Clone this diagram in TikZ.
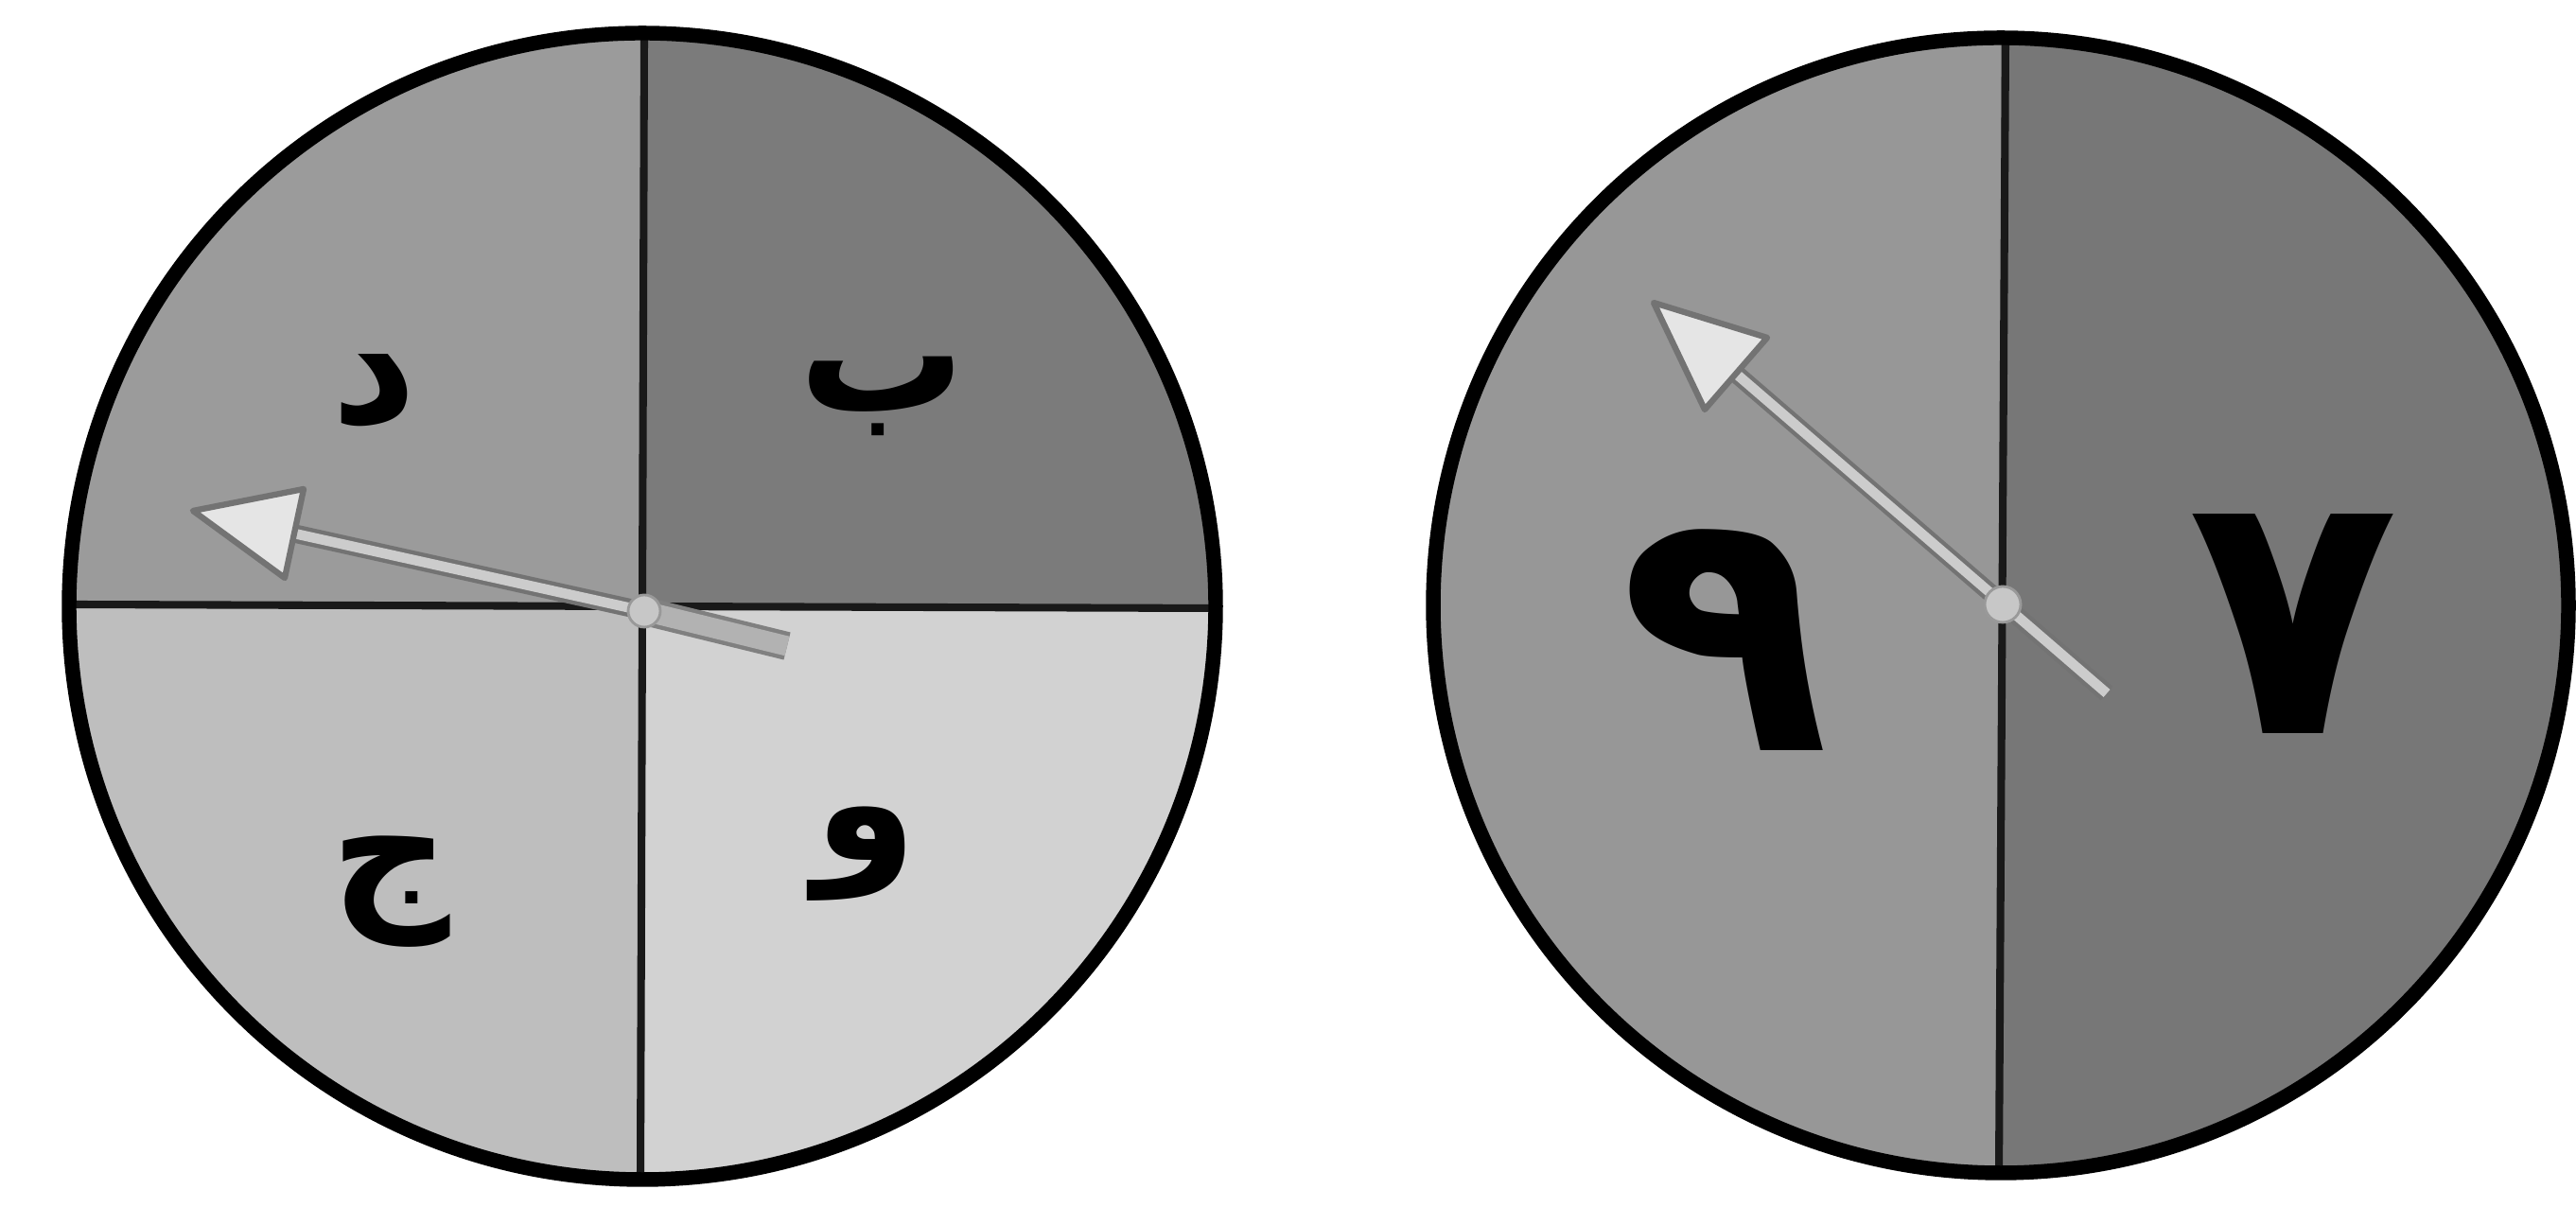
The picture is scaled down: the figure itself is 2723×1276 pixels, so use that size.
\documentclass[tikz,border=0pt]{standalone}
\usepackage{fontspec}
\TeXXeTstate=1
\newfontfamily\arabicfont[Script=Arabic]{DejaVu Sans}
\definecolor{qtl}{HTML}{9B9B9B}
\definecolor{qtr}{HTML}{7B7B7B}
\definecolor{qbl}{HTML}{BEBEBE}
\definecolor{qbr}{HTML}{D2D2D2}
\definecolor{hleft}{HTML}{979797}
\definecolor{hright}{HTML}{777777}
\begin{document}
\begin{tikzpicture}[x=0.1mm,y=0.1mm,
  rim/.style={line width=4.4pt, draw=black},
  divider/.style={line width=2.3pt, draw=black!90},
  lbl/.style={font=\arabicfont\bfseries\fontsize{50}{56}\selectfont, text=black, inner sep=0pt},
  digit/.style={font=\arabicfont\bfseries\fontsize{104}{114}\selectfont, text=black, inner sep=0pt},
  shaftout/.style={line width=5.5pt, draw=black!55},
  shaftin/.style={line width=3pt, draw=black!20},
  tailout/.style={line width=8.5pt, draw=black!50},
  tailin/.style={line width=6pt, draw=black!30},
  headtri/.style={fill=black!10, draw=black!55, line width=1.8pt, line join=round},
  pivotdot/.style={fill=black!22, draw=black!40, line width=0.8pt}
]
\useasboundingbox (0,0) rectangle (2723,1276);
\fill[white] (0,0) rectangle (2723,1276);

% ---------- left spinner ----------
\coordinate (L) at (679,635);
\fill[qtl] (L) -- +(180:606) arc[start angle=180,end angle=90,radius=606] -- cycle;
\fill[qtr] (L) -- +(90:606) arc[start angle=90,end angle=0,radius=606] -- cycle;
\fill[qbl] (L) -- +(180:606) arc[start angle=180,end angle=270,radius=606] -- cycle;
\fill[qbr] (L) -- +(270:606) arc[start angle=270,end angle=360,radius=606] -- cycle;
\coordinate (LTop) at (681,1241);
\coordinate (LBot) at (677,29);
\coordinate (LLft) at (73,637);
\coordinate (LRgt) at (1285,633);
\draw[divider] (LTop) -- (LBot);
\draw[divider] (LLft) -- (LRgt);
\draw[rim] (L) circle[radius=606];

\node[lbl] (ld) at (396,863) {\beginR د\endR};
\node[lbl] (lb) at (933,857) {\beginR ب\endR};
\node[lbl] (lj) at (413,333) {\beginR ج\endR};
\node[lbl] (lw) at (915,373) {\beginR و\endR};

% left pointer
\coordinate (LT) at (204,736);
\coordinate (LB) at (311,712);
\coordinate (LC1) at (321,759);
\coordinate (LC2) at (301,665);
\coordinate (LP) at (681,630);
\coordinate (LE) at (832,593);
\draw[tailout] (LP) -- (LE);
\draw[tailin] (LP) -- (LE);
\draw[shaftout] (LB) -- (LP);
\draw[shaftin] (LB) -- (LP);
\filldraw[headtri] (LT) -- (LC1) -- (LC2) -- cycle;
\filldraw[pivotdot] (LP) circle[radius=17];

% ---------- right spinner ----------
\coordinate (R) at (2115,636);
\fill[hleft] (R) -- +(90:600) arc[start angle=90,end angle=270,radius=600] -- cycle;
\fill[hright] (R) -- +(270:600) arc[start angle=270,end angle=450,radius=600] -- cycle;
\coordinate (RTop) at (2120,1236);
\coordinate (RBot) at (2113,36);
\draw[divider] (RTop) -- (RBot);
\draw[rim] (R) circle[radius=600];

\node[digit] (r9) at (1823,599) {\beginR ٩\endR};
\node[digit] (r7) at (2424,616) {\beginR ٧\endR};

% right pointer
\coordinate (RT) at (1748,956);
\coordinate (RB) at (1835,881);
\coordinate (RC1) at (1868,919);
\coordinate (RC2) at (1802,843);
\coordinate (RP) at (2117,637);
\coordinate (RE) at (2227,543);
\draw[shaftout] (RB) -- (RE);
\draw[shaftin] (RB) -- (RE);
\filldraw[headtri] (RT) -- (RC1) -- (RC2) -- cycle;
\filldraw[pivotdot] (RP) circle[radius=19];
\end{tikzpicture}
\end{document}
